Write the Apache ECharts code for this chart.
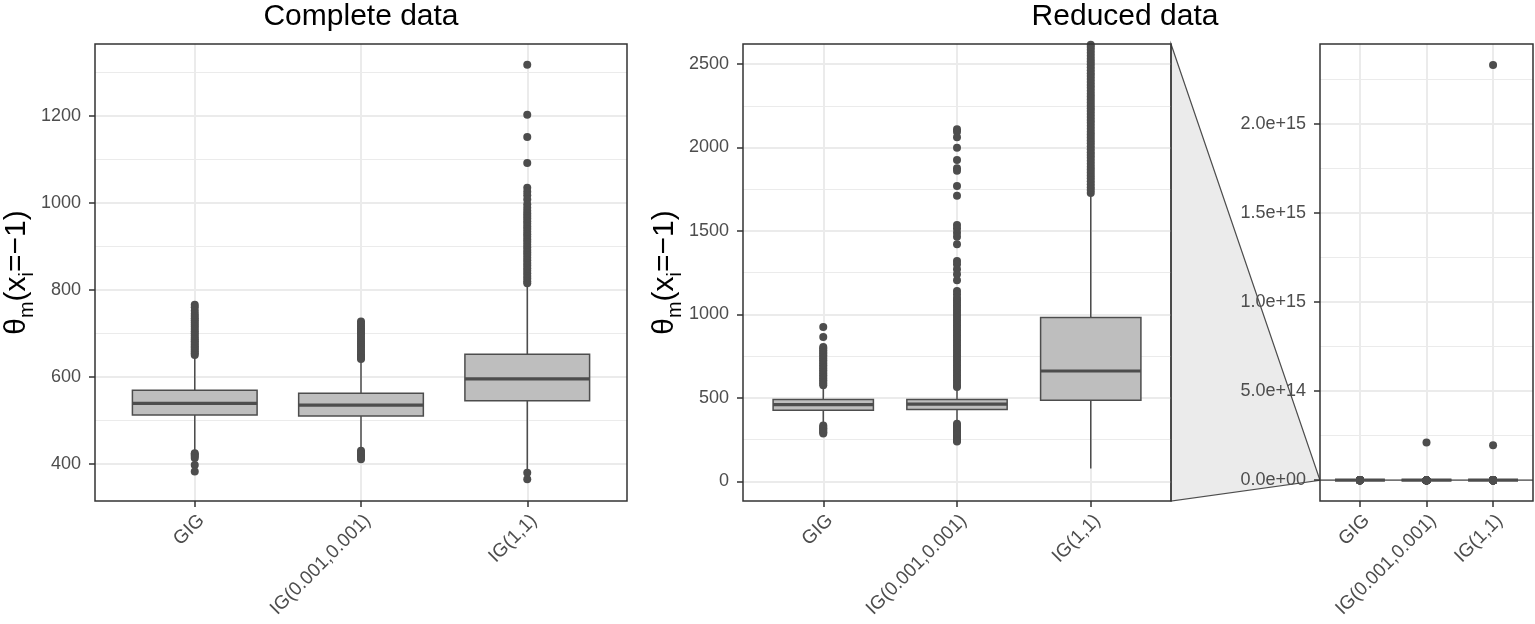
<!DOCTYPE html>
<html>
<head>
<meta charset="utf-8">
<script src="https://cdn.jsdelivr.net/npm/echarts@6/dist/echarts.min.js"></script>
<style>
  html, body { margin: 0; padding: 0; background: #fff; }
  #chart { width: 1535px; height: 624px; }
</style>
</head>
<body>
<div id="chart"></div>
<script>
// boxplots of theta_m(x_i = -1): complete data, reduced data (zoomed) and reduced data (full range)
const categories = ['GIG', 'IG(0.001,0.001)', 'IG(1,1)'];

// [lower whisker, Q1, median, Q3, upper whisker]
const completeGIG = [430, 512, 539, 569, 646];
const completeIG001 = [437, 510, 535, 562, 636];
const completeIG11 = [385, 545, 595, 652, 808];

const completeOutGIG = [766, 760, 752, 745, 740, 735, 730, 725, 720, 715, 710, 705, 700, 695, 690, 686,
  682, 678, 674, 670, 666, 662, 658, 654, 650, 424, 421, 418, 413, 397, 382];
const completeOutIG001 = [727, 722, 717, 712, 707, 702, 697, 692, 687, 682, 677, 672, 667, 662, 657, 652,
  648, 644, 641, 430, 426, 422, 418, 414, 410];
const completeOutIG11 = [1318, 1203, 1152, 1092, 1035, 1026, 1018, 1008, 997, 989, 982, 976, 970, 964,
  958, 952, 946, 940, 934, 928, 922, 916, 910, 904, 898, 892, 886, 880, 874, 868, 862, 856, 850, 844, 838,
  832, 826, 820, 815, 379, 364];

const reducedGIG = [356, 426, 460, 490, 566];
const reducedIG001 = [360, 430, 462, 490, 558];
const reducedIG11 = [76, 486, 661, 981, 1720];

const reducedOutGIG = [925, 865, 805, 795, 785, 775, 765, 755, 745, 735, 725, 715, 705, 695, 685, 675,
  665, 655, 645, 635, 625, 615, 605, 595, 585, 576, 334, 326, 318, 310, 302, 294, 286];
const reducedOutIG001 = [2109, 2094, 2061, 1998, 1925, 1875, 1861, 1769, 1711, 1535, 1515, 1489, 1465,
  1420, 1320, 1300, 1270, 1240, 1205, 1140, 1120, 1100, 1085, 1070, 1055, 1040, 1025, 1010, 995, 980, 965,
  950, 935, 920, 905, 890, 875, 860, 845, 830, 815, 800, 785, 770, 755, 740, 725, 710, 695, 680, 665, 650,
  635, 620, 605, 590, 575, 565, 345, 335, 325, 315, 305, 295, 285, 275, 265, 255, 245, 238, 2.11e14];
const reducedOutIG11 = [1728, 1745, 1762, 1780, 1798, 1815, 1832, 1850, 1868, 1885, 1902, 1920, 1938,
  1955, 1972, 1990, 2008, 2025, 2042, 2060, 2078, 2095, 2112, 2130, 2148, 2165, 2182, 2200, 2218, 2235,
  2252, 2270, 2288, 2305, 2322, 2340, 2358, 2375, 2392, 2410, 2428, 2445, 2462, 2480, 2498, 2515, 2532,
  2550, 2568, 2585, 2602, 2615, 1.96e14, 2.33e15];

// axis ranges and breaks
const completeRange = [314.2, 1365.8];
const completeTicks = [400, 600, 800, 1000, 1200];
const completeMinor = [500, 700, 900, 1100, 1300];
const reducedRange = [-118, 2620];
const reducedTicks = [0, 500, 1000, 1500, 2000, 2500];
const reducedMinor = [250, 750, 1250, 1750, 2250];
const fullRange = [-1.166e14, 2.448e15];
const fullTicks = [0, 5e14, 1e15, 1.5e15, 2e15];
const fullMinor = [2.5e14, 7.5e14, 1.25e15, 1.75e15, 2.25e15];

const FONT = '"Liberation Sans", Arial, Helvetica, sans-serif';
const DARK = '#4d4d4d';
const catPos = categories.map((c, i) => i + 1);

function boxRows(list) {
  return list.map((b, i) => [i + 1].concat(b));
}
function outRows(lists) {
  const pts = [];
  lists.forEach((l, i) => l.forEach(v => pts.push([i + 1, v])));
  return pts;
}
function sci(v) {
  if (v === 0) return '0.0e+00';
  const e = Math.floor(Math.log10(Math.abs(v)));
  const m = v / Math.pow(10, e);
  return m.toFixed(1) + 'e' + (e < 0 ? '-' : '+') + String(Math.abs(e)).padStart(2, '0');
}

const yTitle = '{n|θ}{s|m}{n|(x}{s|i}{n|=−1)}';
const yTitleStyle = {
  rich: {
    n: { fontSize: 30, fontFamily: FONT, color: '#000', verticalAlign: 'bottom', padding: [0, 0, 5, 0] },
    s: { fontSize: 20, fontFamily: FONT, color: '#000', verticalAlign: 'bottom' }
  }
};

function makeX(gridIndex) {
  return {
    type: 'value', gridIndex: gridIndex, min: 0.4, max: 3.6,
    axisLine: { show: false, onZero: false },
    axisTick: { show: true, length: 6, customValues: catPos, lineStyle: { color: '#333', width: 1.5 } },
    axisLabel: {
      customValues: catPos, rotate: 45, margin: 10, fontSize: 19, color: DARK, fontFamily: FONT,
      align: 'right', verticalAlign: 'top',
      formatter: v => categories[Math.round(v) - 1]
    },
    splitLine: { show: true, lineStyle: { color: '#ebebeb', width: 2 } }
  };
}
function makeY(gridIndex, range, ticks, fmt, name) {
  return {
    type: 'value', gridIndex: gridIndex, min: range[0], max: range[1], position: 'left',
    axisLine: { show: false, onZero: false },
    axisTick: { show: true, length: 6, customValues: ticks, lineStyle: { color: '#333', width: 1.5 } },
    axisLabel: { customValues: ticks, margin: 14, fontSize: 18, color: DARK, fontFamily: FONT, formatter: fmt },
    splitLine: { show: true, lineStyle: { color: '#ebebeb', width: 2 } },
    name: name || '', nameLocation: 'middle', nameGap: 58, nameTextStyle: yTitleStyle
  };
}
function makeMinorY(gridIndex, range, ticks) {
  return {
    type: 'value', gridIndex: gridIndex, min: range[0], max: range[1], position: 'left',
    axisLine: { show: false, onZero: false },
    axisTick: { show: false, customValues: ticks },
    axisLabel: { show: false, customValues: ticks },
    splitLine: { show: true, lineStyle: { color: '#ebebeb', width: 1 } }
  };
}

function renderBox(params, api) {
  const x = api.value(0);
  const lo = api.coord([x, api.value(1)]);
  const q1 = api.coord([x, api.value(2)]);
  const md = api.coord([x, api.value(3)]);
  const q3 = api.coord([x, api.value(4)]);
  const hi = api.coord([x, api.value(5)]);
  const half = api.size([0.75, 0])[0] / 2;
  const line = { stroke: DARK, lineWidth: 1.5 };
  return {
    type: 'group',
    children: [
      { type: 'line', shape: { x1: lo[0], y1: lo[1], x2: q1[0], y2: q1[1] }, style: line },
      { type: 'line', shape: { x1: q3[0], y1: q3[1], x2: hi[0], y2: hi[1] }, style: line },
      { type: 'rect', shape: { x: q3[0] - half, y: q3[1], width: half * 2, height: q1[1] - q3[1] },
        style: { fill: '#bebebe', stroke: DARK, lineWidth: 1.5 } },
      { type: 'line', shape: { x1: md[0] - half, y1: md[1], x2: md[0] + half, y2: md[1] },
        style: { stroke: DARK, lineWidth: 3.2 } }
    ]
  };
}

const completeBoxes = boxRows([completeGIG, completeIG001, completeIG11]);
const reducedBoxes = boxRows([reducedGIG, reducedIG001, reducedIG11]);
const completeOut = outRows([completeOutGIG, completeOutIG001, completeOutIG11]);
const reducedOut = outRows([reducedOutGIG, reducedOutIG001, reducedOutIG11]);

const gridBase = { show: true, borderColor: '#333', borderWidth: 1.5, backgroundColor: 'transparent',
  z: 10, containLabel: false, outerBoundsMode: 'none' };
const dots = { color: DARK, opacity: 1 };

const chart = echarts.init(document.getElementById('chart'));
const option = {
  backgroundColor: '#fff',
  animation: false,
  grid: [
    Object.assign({ left: 95, top: 44, width: 532, height: 457 }, gridBase),
    Object.assign({ left: 743, top: 44, width: 428, height: 457 }, gridBase),
    Object.assign({ left: 1320, top: 44, width: 213, height: 457 }, gridBase)
  ],
  xAxis: [makeX(0), makeX(1), makeX(2)],
  yAxis: [
    makeY(0, completeRange, completeTicks, v => String(v), yTitle),
    makeMinorY(0, completeRange, completeMinor),
    makeY(1, reducedRange, reducedTicks, v => String(v), yTitle),
    makeMinorY(1, reducedRange, reducedMinor),
    makeY(2, fullRange, fullTicks, sci),
    makeMinorY(2, fullRange, fullMinor)
  ],
  series: [
    { type: 'scatter', xAxisIndex: 0, yAxisIndex: 0, data: completeOut, symbolSize: 8, clip: true,
      itemStyle: dots, silent: true, z: 2 },
    { type: 'custom', xAxisIndex: 0, yAxisIndex: 0, data: completeBoxes, renderItem: renderBox, clip: true, z: 3 },
    { type: 'scatter', xAxisIndex: 1, yAxisIndex: 2, data: reducedOut, symbolSize: 8, clip: true,
      itemStyle: dots, silent: true, z: 2 },
    { type: 'custom', xAxisIndex: 1, yAxisIndex: 2, data: reducedBoxes, renderItem: renderBox, clip: true, z: 3 },
    { type: 'scatter', xAxisIndex: 2, yAxisIndex: 4, data: reducedOut, symbolSize: 8, clip: true,
      itemStyle: dots, silent: true, z: 2,
      markArea: {
        silent: true,
        itemStyle: { color: '#ebebeb', borderColor: DARK, borderWidth: 1.2 },
        data: [[{ xAxis: 0.4, yAxis: reducedRange[0] }, { xAxis: 3.6, yAxis: reducedRange[1] }]]
      } },
    { type: 'custom', xAxisIndex: 2, yAxisIndex: 4, data: reducedBoxes, renderItem: renderBox, clip: true, z: 3 }
  ]
};
chart.setOption(option);

// zoom connector between the reduced panel and the full-range panel
const p2Top = chart.convertToPixel({ xAxisIndex: 1, yAxisIndex: 2 }, [3.6, reducedRange[1]]);
const p2Bot = chart.convertToPixel({ xAxisIndex: 1, yAxisIndex: 2 }, [3.6, reducedRange[0]]);
const p3Top = chart.convertToPixel({ xAxisIndex: 2, yAxisIndex: 4 }, [0.4, reducedRange[1]]);
const p3Bot = chart.convertToPixel({ xAxisIndex: 2, yAxisIndex: 4 }, [0.4, reducedRange[0]]);

chart.setOption({
  graphic: [
    { type: 'polygon', z: -1, silent: true,
      shape: { points: [p2Top, p3Top, p3Bot, p2Bot] },
      style: { fill: '#ebebeb', stroke: DARK, lineWidth: 1.2 } },
    { type: 'text', x: 361, y: 17, silent: true,
      style: { text: 'Complete data', align: 'center', verticalAlign: 'middle', fontSize: 30,
        fontFamily: FONT, fill: '#000' } },
    { type: 'text', x: 1125, y: 17, silent: true,
      style: { text: 'Reduced data', align: 'center', verticalAlign: 'middle', fontSize: 30,
        fontFamily: FONT, fill: '#000' } }
  ]
});
</script>
</body>
</html>
